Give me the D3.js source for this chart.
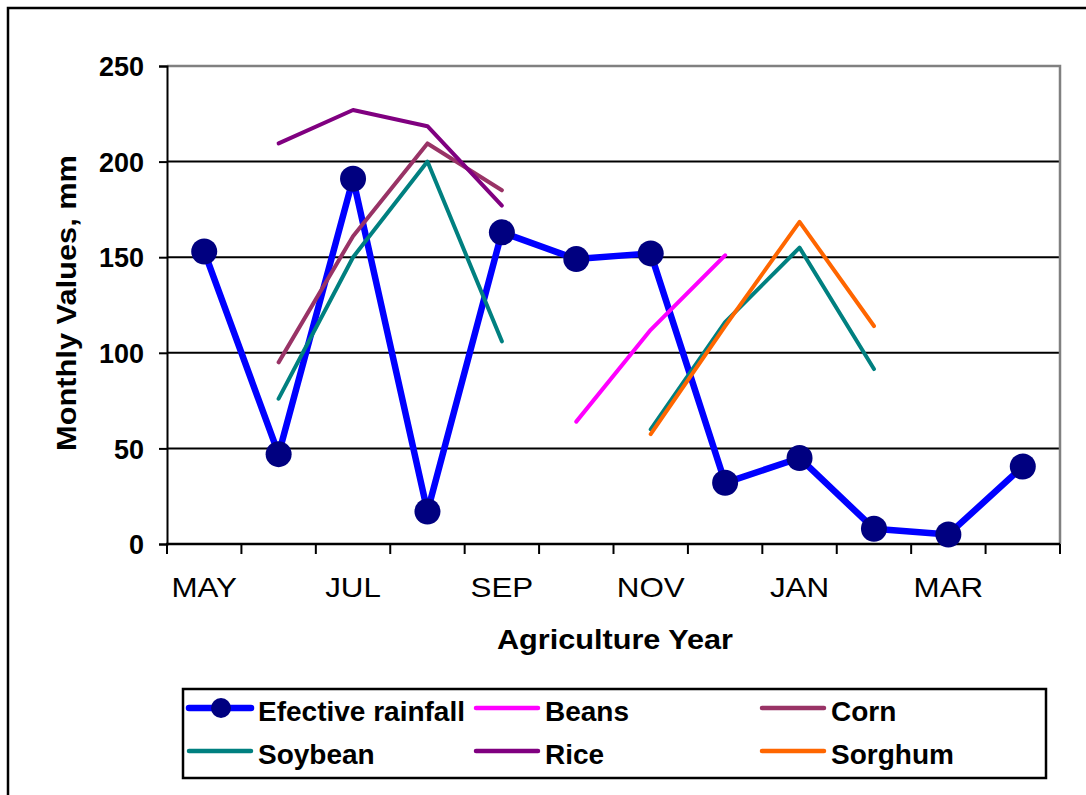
<!DOCTYPE html>
<html>
<head>
<meta charset="utf-8">
<script src="https://cdn.jsdelivr.net/npm/d3@7"></script>
<style>
  html, body { margin: 0; padding: 0; background: #fff; }
  svg { display: block; font-family: "Liberation Sans", Arial, sans-serif; }
</style>
</head>
<body>
<svg id="chart" width="1086" height="795"></svg>
<script>
// ---- data ----
const months = ["MAY","JUN","JUL","AUG","SEP","OCT","NOV","DEC","JAN","FEB","MAR","APR"];
const monthLabels = ["MAY","","JUL","","SEP","","NOV","","JAN","","MAR",""];
const yTicks = [0, 50, 100, 150, 200, 250];
const rainfall = [153, 47, 191, 17, 163, 149, 152, 32, 45, 8, 5, 40.5];
const beans    = [null, null, null, null, null, 64, 112, 151, null, null, null, null];
const corn     = [null, 95, 161, 209.5, 185, null, null, null, null, null, null, null];
const soybean  = [null, 76, 150, 200, 106, null, 60, 116, 155, 91.5, null, null];
const rice     = [null, 209.5, 227, 218.5, 177, null, null, null, null, null, null, null];
const sorghum  = [null, null, null, null, null, null, 57.5, 114, 168.5, 114, null, null];

const seriesNames = ["Efective rainfall", "Beans", "Corn", "Soybean", "Rice", "Sorghum"];
const seriesData  = [rainfall, beans, corn, soybean, rice, sorghum];
const seriesColors = ["#0000FF", "#FF00FF", "#993366", "#008080", "#800080", "#FF6600"];

// ---- layout ----
const svg = d3.select("#chart");
const pLeft = 167, pRight = 1060, pTop = 66, pBottom = 544;

const x = d3.scaleBand().domain(months).range([pLeft, pRight]).padding(0);
const y = d3.scaleLinear().domain([0, 250]).range([pBottom, pTop]);
const cx = m => x(m) + x.bandwidth() / 2;

// outer frame
svg.append("rect").attr("x", 8).attr("y", 8).attr("width", 1100).attr("height", 800)
  .attr("fill", "none").attr("stroke", "#000").attr("stroke-width", 2.5);

// gridlines
svg.append("g").selectAll("line").data(yTicks.filter(v => v > 0 && v < 250)).join("line")
  .attr("x1", pLeft).attr("x2", pRight)
  .attr("y1", d => y(d)).attr("y2", d => y(d))
  .attr("stroke", "#000").attr("stroke-width", 2);

// plot border top/right (gray)
svg.append("path")
  .attr("d", `M${pLeft},${y(250)}H${pRight}V${pBottom}`)
  .attr("fill", "none").attr("stroke", "#808080").attr("stroke-width", 2.5);

// y axis
const yAxis = svg.append("g").attr("transform", `translate(${pLeft},0)`)
  .call(d3.axisLeft(y).tickValues(yTicks).tickSize(8).tickPadding(15));
yAxis.select(".domain").attr("stroke", "#000").attr("stroke-width", 2);
yAxis.selectAll(".tick line").attr("stroke", "#000").attr("stroke-width", 2);
yAxis.selectAll(".tick text")
  .attr("font-family", "Liberation Sans, Arial, sans-serif")
  .attr("font-size", 27).attr("font-weight", "bold").attr("fill", "#000")
  .attr("dy", "0.36em");

// x axis: ticks at band boundaries, labels at band centres
const bounds = months.map(m => x(m)).concat([pRight]);
svg.append("g").selectAll("line").data(bounds).join("line")
  .attr("x1", d => d).attr("x2", d => d)
  .attr("y1", pBottom).attr("y2", pBottom + 10)
  .attr("stroke", "#000").attr("stroke-width", 2);

const xAxis = svg.append("g").attr("transform", `translate(0,${pBottom})`)
  .call(d3.axisBottom(x).tickSize(0).tickPadding(0).tickFormat((d, i) => monthLabels[i]));
xAxis.select(".domain").remove();
svg.append("line").attr("x1", pLeft - 1).attr("x2", pRight).attr("y1", pBottom).attr("y2", pBottom)
  .attr("stroke", "#000").attr("stroke-width", 2.5);
xAxis.selectAll(".tick text")
  .attr("font-family", "Liberation Sans, Arial, sans-serif")
  .attr("font-size", 28).attr("fill", "#000")
  .attr("y", 53).attr("dy", 0)
  .attr("transform", "scale(1.12,1)");

// axis titles
svg.append("text").attr("x", 615).attr("y", 649)
  .attr("text-anchor", "middle").attr("font-size", 28).attr("font-weight", "bold")
  .attr("textLength", 236).attr("lengthAdjust", "spacingAndGlyphs")
  .text("Agriculture Year");
svg.append("text").attr("transform", "translate(76,303) rotate(-90)")
  .attr("text-anchor", "middle").attr("font-size", 27).attr("font-weight", "bold")
  .attr("textLength", 296).attr("lengthAdjust", "spacingAndGlyphs")
  .text("Monthly Values, mm");

// series
const lineGen = d3.line()
  .defined(d => d.v !== null)
  .x(d => cx(d.m)).y(d => y(d.v));

seriesData.forEach((arr, si) => {
  const pts = months.map((m, i) => ({ m, v: arr[i] }));
  svg.append("path").datum(pts)
    .attr("d", lineGen)
    .attr("fill", "none")
    .attr("stroke", seriesColors[si])
    .attr("stroke-width", si === 0 ? 6.5 : 4)
    .attr("stroke-linejoin", "round")
    .attr("stroke-linecap", "round");
  if (si === 0) {
    svg.append("g").selectAll("circle").data(pts.filter(d => d.v !== null)).join("circle")
      .attr("cx", d => cx(d.m)).attr("cy", d => y(d.v)).attr("r", 13)
      .attr("fill", "#000080");
  }
});

// legend
const lg = svg.append("g");
lg.append("rect").attr("x", 183).attr("y", 689).attr("width", 863).attr("height", 89)
  .attr("fill", "#fff").attr("stroke", "#000").attr("stroke-width", 2.5);
const colX = [189, 476, 762];
const rowY = [708, 751];
seriesNames.forEach((name, i) => {
  const c = i % 3, r = Math.floor(i / 3);
  const x0 = colX[c], yy = rowY[r];
  lg.append("line").attr("x1", x0).attr("x2", x0 + 62).attr("y1", yy).attr("y2", yy)
    .attr("stroke", seriesColors[i]).attr("stroke-width", i === 0 ? 6.5 : 4.5)
    .attr("stroke-linecap", "round");
  if (i === 0) {
    lg.append("circle").attr("cx", x0 + 32).attr("cy", yy).attr("r", 10).attr("fill", "#000080");
  }
  lg.append("text").attr("x", x0 + 69).attr("y", yy + 13)
    .attr("font-size", 28).attr("font-weight", "bold").attr("fill", "#000")
    .text(name);
});
</script>
</body>
</html>
